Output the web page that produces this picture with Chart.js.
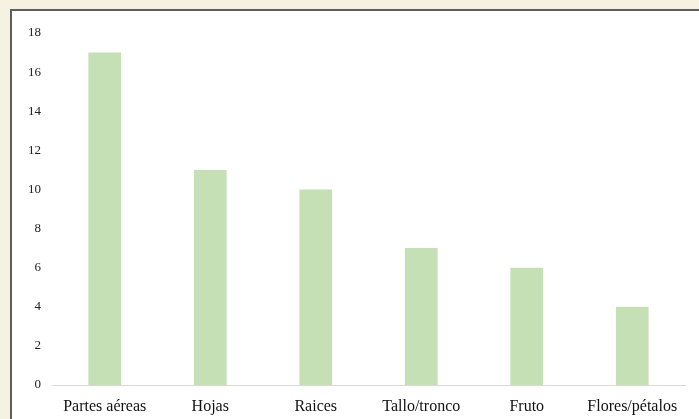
<!DOCTYPE html>
<html><head><meta charset="utf-8">
<script src="https://cdn.jsdelivr.net/npm/chart.js@4/dist/chart.umd.min.js"></script>
<style>
html,body{margin:0;padding:0;background:#f5f2e2;width:699px;height:419px;overflow:hidden;}
#panel{position:absolute;left:10px;top:9px;width:700px;height:420px;background:#fff;border-left:2px solid #5e5e5e;border-top:2px solid #5e5e5e;box-sizing:border-box;}
#wrap{position:absolute;left:0;top:0;width:699px;height:419px;}
</style></head>
<body>
<div id="panel"></div>
<div id="wrap"><canvas id="c"></canvas></div>
<script>
const categories = ["Partes aéreas","Hojas","Raices","Tallo/tronco","Fruto","Flores/pétalos"];
const values = [17, 11, 10, 7, 6, 4];
const yTicks = [0,2,4,6,8,10,12,14,16,18];

new Chart(document.getElementById('c'), {
  type: 'bar',
  data: { labels: categories, datasets: [{ data: values, backgroundColor: '#c5e0b4', barPercentage: 0.31, categoryPercentage: 1 }] },
  options: {
    responsive: true, maintainAspectRatio: false, animation: false,
    layout: { padding: { left: 0, right: 14, top: 33, bottom: 0 } },
    plugins: { legend: { display: false }, tooltip: { enabled: false } },
    scales: {
      x: {
        grid: { display: false, drawTicks: false },
        border: { color: '#d9d9d9', width: 1 },
        ticks: { color: '#111', font: { family: 'Liberation Serif', size: 16 }, padding: 12, maxRotation: 0 },
        afterFit: s => { s.height = 34; }
      },
      y: {
        min: 0, max: 18,
        afterBuildTicks: s => { s.ticks = yTicks.map(v => ({ value: v })); },
        grid: { display: false, drawTicks: false },
        border: { display: false },
        ticks: { color: '#222', font: { family: 'Liberation Serif', size: 13 }, padding: 11 },
        afterFit: s => { s.width = 52; }
      }
    }
  }
});
</script>
</body></html>
